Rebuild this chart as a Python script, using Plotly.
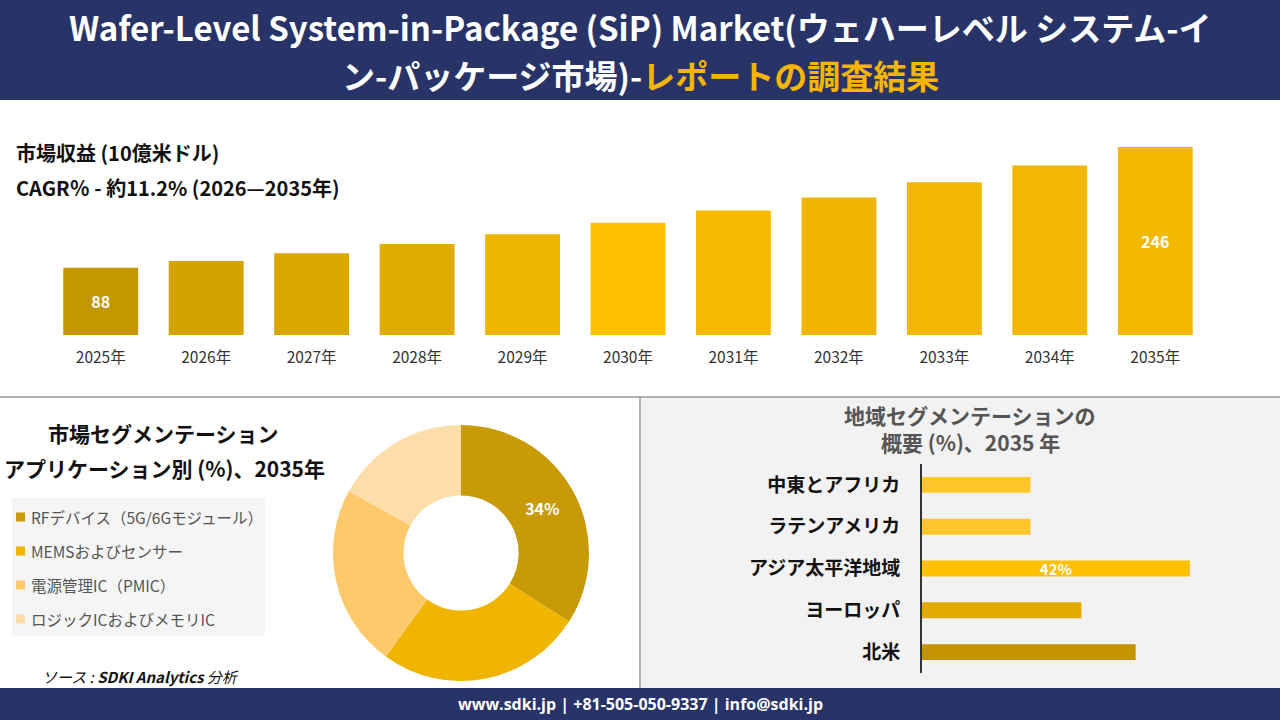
import plotly.graph_objects as go

FONT = "Noto Sans CJK JP"
NAVY = "#283468"
GOLD = "#F7B500"

# ---- datos ----
years = [2025, 2026, 2027, 2028, 2029, 2030, 2031, 2032, 2033, 2034, 2035]
revenue = [88, 97, 107, 119, 132, 147, 163, 180, 200, 222, 246]
bar_colors = ["#C49600", "#D4A300", "#DAA700", "#E0AC00", "#EDB400", "#FFC000",
              "#F5B900", "#F0B500", "#F2B700", "#F2B700", "#F3B800"]

apps = ["RFデバイス（5G/6Gモジュール）", "MEMSおよびセンサー", "電源管理IC（PMIC）", "ロジックICおよびメモリIC"]
app_share = [34, 26, 23, 17]
app_colors = ["#C89A06", "#EFB500", "#FDC96A", "#FDDDAA"]

regions = ["中東とアフリカ", "ラテンアメリカ", "アジア太平洋地域", "ヨーロッパ", "北米"]
region_share = [17, 17, 42, 25, 33.5]
region_colors = ["#FFC72C", "#FFC72C", "#FFC000", "#E2AA00", "#C49300"]


def px_x(p):
    return p / 1280


def px_y(p):
    return 1 - p / 720


fig = go.Figure()

# Grafica 1: ingresos por año
year_labels = [f"{y}年" for y in years]
bar_text = [str(v) if i in (0, len(revenue) - 1) else "" for i, v in enumerate(revenue)]
fig.add_trace(go.Bar(
    x=year_labels, y=revenue, width=0.71,
    marker=dict(color=bar_colors, line=dict(width=0)),
    text=bar_text, textposition="inside", insidetextanchor="middle", constraintext="none",
    textfont=dict(color="white", size=16, family=FONT, weight="bold"),
    xaxis="x", yaxis="y", showlegend=False,
))

# Grafica 2: dona por aplicación
pie_text = [f"{app_share[0]}%"] + [""] * (len(app_share) - 1)
fig.add_trace(go.Pie(
    labels=apps, values=app_share, hole=0.45, sort=False,
    direction="clockwise", rotation=0,
    marker=dict(colors=app_colors, line=dict(width=0)),
    text=pie_text, textinfo="text", textposition="inside",
    insidetextorientation="horizontal",
    textfont=dict(color="white", size=16, family=FONT, weight="bold"),
    domain=dict(x=[px_x(333), px_x(589)], y=[px_y(681), px_y(425)]),
    showlegend=False,
))

# Grafica 3: barras por región
reg_text = [f"{v:g}%" if v == max(region_share) else "" for v in region_share]
fig.add_trace(go.Bar(
    x=region_share, y=regions, orientation="h", width=0.38,
    marker=dict(color=region_colors, line=dict(width=0)),
    text=reg_text, textposition="inside", insidetextanchor="middle", constraintext="none",
    textfont=dict(color="white", size=15, family=FONT, weight="bold"),
    xaxis="x2", yaxis="y2", showlegend=False,
))

shapes = [
    dict(type="rect", xref="paper", yref="paper", x0=0, x1=1, y0=px_y(100), y1=1,
         fillcolor=NAVY, line=dict(width=0), layer="below"),
    dict(type="rect", xref="paper", yref="paper", x0=0, x1=1, y0=0, y1=px_y(688),
         fillcolor=NAVY, line=dict(width=0), layer="below"),
    dict(type="rect", xref="paper", yref="paper", x0=px_x(641), x1=1, y0=px_y(688), y1=px_y(397),
         fillcolor="#F2F2F2", line=dict(width=0), layer="below"),
    dict(type="line", xref="paper", yref="paper", x0=0, x1=1, y0=px_y(397), y1=px_y(397),
         line=dict(color="#9A9A9A", width=1.5)),
    dict(type="line", xref="paper", yref="paper", x0=px_x(640), x1=px_x(640), y0=px_y(688), y1=px_y(397),
         line=dict(color="#9A9A9A", width=1.5)),
    dict(type="rect", xref="paper", yref="paper", x0=px_x(12), x1=px_x(265), y0=px_y(636), y1=px_y(498),
         fillcolor="#F5F5F5", line=dict(width=0), layer="below"),
]

annotations = [
    dict(text="Wafer-Level System-in-Package (SiP) Market(ウェハーレベル システム-イ",
         x=0.5, y=px_y(27), font=dict(size=33, color="white", family=FONT, weight="bold")),
    dict(text=f"ン-パッケージ市場)-<span style='color:{GOLD}'>レポートの調査結果</span>",
         x=0.5, y=px_y(75), font=dict(size=33, color="white", family=FONT, weight="bold")),
    dict(text="市場収益 (10億米ドル)", x=px_x(14), y=px_y(152), xanchor="left",
         font=dict(size=20, color="#111", family=FONT, weight="bold")),
    dict(text="CAGR％ - 約11.2% (2026—2035年)", x=px_x(14), y=px_y(188), xanchor="left",
         font=dict(size=20, color="#111", family=FONT, weight="bold")),
    dict(text="市場セグメンテーション", x=px_x(163), y=px_y(433),
         font=dict(size=21, color="#111", family=FONT, weight="bold")),
    dict(text="アプリケーション別 (%)、2035年", x=px_x(164), y=px_y(468),
         font=dict(size=21, color="#111", family=FONT, weight="bold")),
    dict(text="<i>ソース : <b>SDKI Analytics</b> 分析</i>", x=px_x(40), y=px_y(676), xanchor="left",
         font=dict(size=15, color="#111", family=FONT)),
    dict(text="地域セグメンテーションの", x=px_x(970), y=px_y(415),
         font=dict(size=21, color="#555", family=FONT, weight="bold")),
    dict(text="概要 (%)、2035 年", x=px_x(970), y=px_y(442),
         font=dict(size=21, color="#555", family=FONT, weight="bold")),
    dict(text="www.sdki.jp | +81-505-050-9337 | info@sdki.jp", x=0.5, y=px_y(704),
         font=dict(size=16, color="white", family="Open Sans", weight="bold")),
]

# leyenda de la dona
for i, (lab, col) in enumerate(zip(apps, app_colors)):
    yc = 517 + 34 * i
    shapes.append(dict(type="rect", xref="paper", yref="paper",
                       x0=px_x(16), x1=px_x(25), y0=px_y(yc + 4.5), y1=px_y(yc - 4.5),
                       fillcolor=col, line=dict(width=0)))
    annotations.append(dict(text=lab, x=px_x(29), y=px_y(yc), xanchor="left",
                            font=dict(size=15.5, color="#555", family=FONT)))

for a in annotations:
    a.update(xref="paper", yref="paper", showarrow=False, yanchor="middle")
    a.setdefault("xanchor", "center")

fig.update_layout(
    width=1280, height=720,
    margin=dict(l=0, r=0, t=0, b=0),
    paper_bgcolor="white", plot_bgcolor="rgba(0,0,0,0)",
    xaxis=dict(domain=[px_x(48), px_x(1208)], anchor="y", showgrid=False, showline=False,
               zeroline=False, ticks="", ticklabelstandoff=11,
               tickfont=dict(size=15.5, color="#333", family=FONT)),
    yaxis=dict(domain=[px_y(335), px_y(144)], range=[0, 250], visible=False),
    xaxis2=dict(domain=[px_x(922), px_x(1209)], range=[0, 45], anchor="y2", visible=False),
    yaxis2=dict(domain=[px_y(673), px_y(464)], anchor="x2", autorange="reversed",
                showline=True, linecolor="#333", linewidth=2, showgrid=False, ticks="",
                ticklabelstandoff=16,
                tickfont=dict(size=19, color="#111", family=FONT, weight="bold")),
    shapes=shapes,
    annotations=annotations,
)

fig.write_html("out.html", config={"displayModeBar": False},
               post_script="document.body.style.margin='0';")
